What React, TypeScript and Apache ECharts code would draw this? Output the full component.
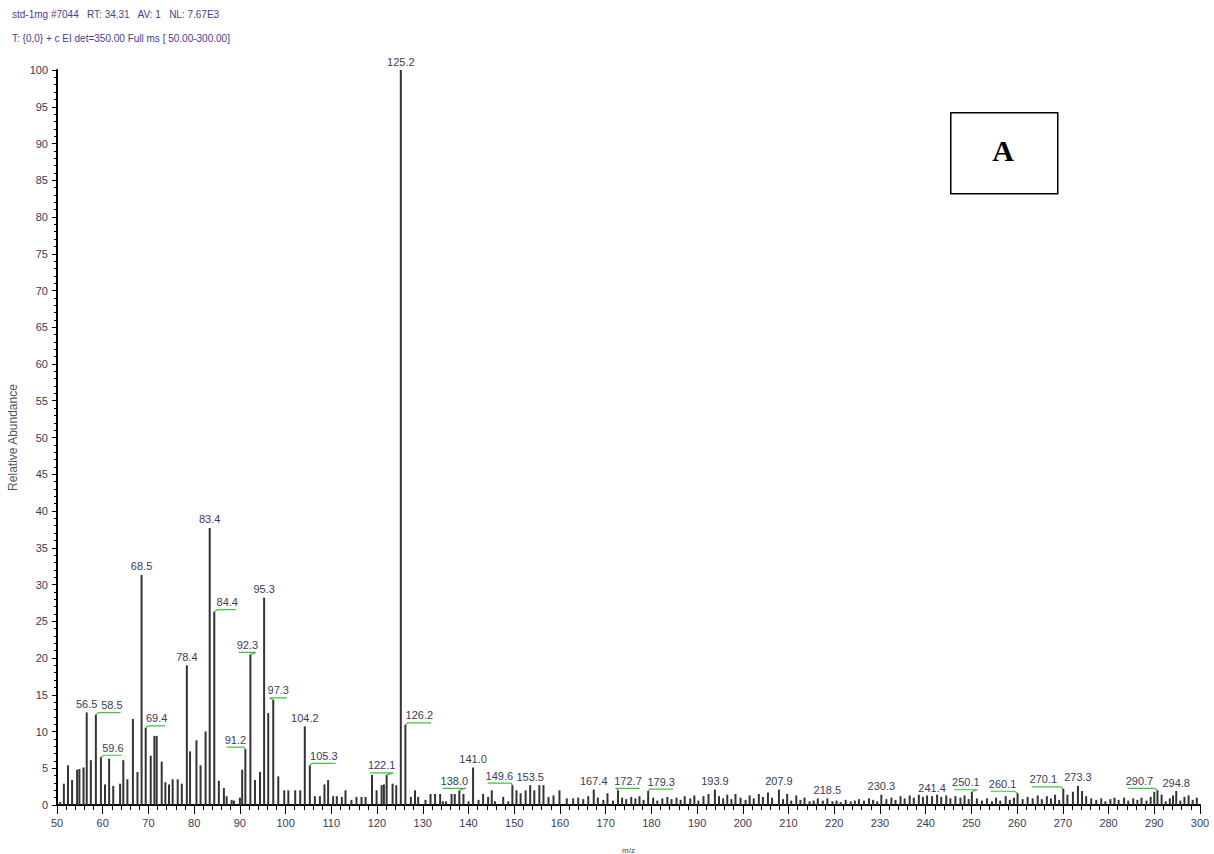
import React, { useEffect, useRef } from 'react';
import * as echarts from 'echarts';

// [m/z, relative abundance]
const lowMassPeaks: [number, number][] = [
  [50.7, 0.4], [51.5, 2.9], [52.4, 5.4], [53.3, 3.4], [54.4, 4.8], [54.9, 4.9], [55.8, 5.1],
  [56.5, 12.6], [57.4, 6.1], [58.5, 12.3], [59.6, 6.5], [60.5, 2.8], [61.4, 6.3], [62.3, 2.6],
  [63.8, 2.9], [64.5, 6.1], [65.4, 3.5], [66.6, 11.7], [67.6, 4.5], [68.5, 31.3], [69.4, 10.5],
  [70.5, 6.7], [71.3, 9.4], [71.8, 9.4], [72.9, 5.9], [73.7, 3.1], [74.5, 2.8], [75.3, 3.5],
  [76.4, 3.5], [77.3, 2.9], [78.4, 19.0], [79.1, 7.3], [80.5, 8.8], [81.4, 5.4], [82.5, 10.0],
  [83.4, 37.7], [84.4, 26.3], [85.4, 3.3], [86.5, 2.3], [87.1, 1.2], [88.2, 0.7], [88.7, 0.6],
  [90.0, 1.0], [90.5, 4.8], [91.2, 7.6], [92.3, 20.5], [93.3, 3.4], [94.4, 4.5], [95.3, 28.2],
  [96.2, 12.5], [97.3, 14.3], [98.4, 3.9], [99.7, 2.0], [100.6, 2.0], [102.1, 2.0], [103.2, 2.0],
  [104.2, 10.7], [105.3, 5.4], [106.4, 1.2], [107.5, 1.2], [108.5, 2.8], [109.3, 3.4], [110.4, 1.2],
  [111.2, 1.2], [112.3, 1.1], [113.1, 2.0], [114.4, 0.7], [115.5, 1.1], [116.6, 1.1], [117.5, 1.1],
  [118.9, 4.1], [119.9, 2.0], [121.0, 2.7], [121.5, 2.8], [122.1, 4.1], [123.4, 2.9], [124.2, 2.7],
  [125.2, 100], [126.2, 10.9], [127.4, 1.1], [128.3, 2.0], [129.0, 1.1],
];

const midMassPeaks: [number, number][] = [
  [130.6, 0.7], [131.7, 1.5], [132.7, 1.5], [133.8, 1.5], [134.4, 0.5], [135.1, 0.5], [136.3, 1.5],
  [137.0, 1.5], [138.0, 2.0], [138.9, 1.5], [140.0, 0.5], [141.0, 5.1], [142.2, 0.7], [143.2, 1.5],
  [144.3, 1.1], [145.1, 2.0], [145.8, 0.5], [147.6, 1.1], [148.7, 0.5], [149.6, 2.7], [150.5, 2.0],
  [151.4, 1.6], [152.5, 2.0], [153.5, 2.7], [154.4, 2.0], [155.5, 2.7], [156.4, 2.7], [157.5, 1.1],
  [158.6, 1.3], [159.9, 2.0], [161.5, 0.9], [162.9, 0.9],
];

const highMassPeaks: [number, number][] = [
  [164.0, 1.0], [165.1, 0.8], [166.2, 1.2], [167.4, 2.1], [168.3, 1.0], [169.5, 0.7], [170.4, 1.6],
  [171.6, 0.6], [172.7, 2.0], [173.6, 1.0], [174.5, 0.8], [175.6, 1.1], [176.5, 0.9], [177.4, 1.2],
  [178.3, 0.7], [179.3, 1.9], [180.4, 1.0], [181.3, 0.6], [182.4, 0.9], [183.5, 1.1], [184.4, 0.8],
  [185.5, 1.0], [186.4, 0.7], [187.3, 1.2], [188.5, 0.9], [189.4, 1.3], [190.3, 0.6], [191.4, 1.2],
  [192.5, 1.5], [193.9, 2.1], [194.8, 1.2], [195.7, 0.9], [196.6, 1.4], [197.5, 0.8], [198.4, 1.5],
  [199.5, 1.0], [200.6, 0.7], [201.5, 1.3], [202.4, 0.9], [203.5, 1.5], [204.4, 1.1], [205.5, 1.7],
  [206.4, 1.0], [207.9, 2.1], [208.8, 0.8], [209.7, 1.5], [210.6, 0.6], [211.7, 1.3], [212.6, 0.7],
  [213.5, 1.0], [214.6, 0.5], [215.5, 0.6], [216.4, 0.9], [217.5, 0.6], [218.5, 0.9], [219.6, 0.5],
  [220.5, 0.6], [221.4, 0.4], [222.5, 0.7], [223.6, 0.5], [224.5, 0.6], [225.4, 0.8], [226.5, 0.6],
  [227.6, 0.9], [228.5, 0.7], [229.4, 0.5], [230.3, 1.4], [231.4, 0.8], [232.5, 1.0], [233.4, 0.7],
  [234.5, 1.2], [235.4, 0.9], [236.5, 1.3], [237.4, 1.0], [238.5, 1.4], [239.4, 1.1], [240.3, 1.3],
  [241.4, 1.2], [242.5, 1.4], [243.4, 1.1], [244.5, 1.3], [245.4, 0.9], [246.5, 1.2], [247.6, 1.0],
  [248.5, 1.3], [249.4, 0.8], [250.1, 1.8], [251.2, 0.9], [252.3, 0.6], [253.4, 0.9], [254.5, 0.5],
  [255.4, 1.0], [256.3, 0.6], [257.5, 1.2], [258.4, 0.7], [259.3, 1.0], [260.1, 1.6], [261.2, 0.8],
  [262.3, 1.1], [263.4, 0.9], [264.5, 1.3], [265.4, 0.8], [266.5, 1.2], [267.4, 0.9], [268.3, 1.4],
  [269.2, 0.7], [270.1, 2.2], [271.0, 1.4], [272.2, 1.8], [273.3, 2.6], [274.2, 1.9], [275.1, 1.2],
  [276.2, 0.9], [277.3, 0.7], [278.4, 0.9], [279.3, 0.5], [280.4, 0.8], [281.3, 1.0], [282.2, 0.7],
  [283.4, 1.0], [284.3, 0.6], [285.4, 0.9], [286.3, 0.7], [287.2, 1.0], [288.3, 0.6], [289.2, 1.1],
  [290.0, 1.8], [290.7, 2.0], [291.6, 1.4], [292.5, 0.5], [293.4, 0.9], [294.1, 1.3], [294.8, 1.9],
  [295.7, 0.6], [296.6, 1.1], [297.5, 1.3], [298.4, 0.7], [299.3, 1.0],
];

const labelledMz = [
  56.5, 58.5, 59.6, 68.5, 69.4, 78.4, 83.4, 84.4, 91.2, 92.3, 95.3, 97.3, 104.2, 105.3, 122.1,
  125.2, 126.2, 138.0, 141.0, 149.6, 153.5, 167.4, 172.7, 179.3, 193.9, 207.9, 218.5, 230.3,
  241.4, 250.1, 260.1, 270.1, 273.3, 290.7, 294.8,
];

const headerLines = [
  'std-1mg #7044   RT: 34.31   AV: 1   NL: 7.67E3',
  'T: {0,0} + c EI det=350.00 Full ms [ 50.00-300.00]',
];

const panelLetter = 'A';

// horizontal pixel shift of labels that sit beside their peak (green leader line)
const labelShift: Record<string, number> = {
  '58.5': 16, '59.6': 12, '69.4': 11, '84.4': 13, '91.2': -10, '92.3': -3, '97.3': 5,
  '105.3': 14, '122.1': -5, '126.2': 14, '138.0': -5, '149.6': -13, '172.7': 10, '179.3': 13,
  '250.1': -6, '260.1': -15, '270.1': -20, '290.7': -18,
};

const FONT = '"Liberation Sans", Arial, sans-serif';
const textWidth = (s: string) => (s.length - 1) * 6.1 + 3;

const App: React.FC = () => {
  const chartRef = useRef<HTMLDivElement>(null);

  useEffect(() => {
    if (!chartRef.current) return;
    const chart = echarts.init(chartRef.current, undefined, { renderer: 'svg' });

    const allPeaks = [...lowMassPeaks, ...midMassPeaks, ...highMassPeaks];
    const labelData = labelledMz.map((mz) => {
      const p = allPeaks.find((q) => Math.abs(q[0] - mz) < 1e-6);
      return [mz, p ? p[1] : 0];
    });

    const option = {
      animation: false,
      backgroundColor: '#fff',
      grid: { left: 57, right: 14, top: 70, bottom: 49, outerBoundsMode: 'none', containLabel: false },
      xAxis: {
        type: 'value',
        min: 50,
        max: 300,
        interval: 10,
        name: 'm/z',
        nameLocation: 'middle',
        nameGap: 41,
        nameTextStyle: { fontSize: 8, color: '#444', fontFamily: FONT },
        axisLine: { show: true, lineStyle: { color: '#000', width: 2 } },
        axisTick: { show: true, length: 9, lineStyle: { color: '#000', width: 1 } },
        minorTick: { show: true, splitNumber: 5, length: 5, lineStyle: { color: '#000', width: 1 } },
        splitLine: { show: false },
        axisLabel: { fontSize: 11, color: '#3a3a55', margin: 12, fontFamily: FONT },
      },
      yAxis: {
        type: 'value',
        min: 0,
        max: 100,
        interval: 5,
        name: 'Relative Abundance',
        nameLocation: 'middle',
        nameGap: 36,
        nameTextStyle: { fontSize: 12, color: '#555', fontFamily: FONT },
        axisLine: { show: true, lineStyle: { color: '#000', width: 2 } },
        axisTick: { show: true, length: 5, lineStyle: { color: '#000', width: 1 } },
        minorTick: { show: true, splitNumber: 5, length: 3, lineStyle: { color: '#000', width: 1 } },
        splitLine: { show: false },
        axisLabel: { fontSize: 11, color: '#3a3a55', margin: 9, fontFamily: FONT },
      },
      graphic: [
        {
          type: 'text',
          left: 12,
          top: 9,
          style: { text: headerLines[0], fontSize: 10, fill: '#4a3c9c', fontFamily: FONT },
        },
        {
          type: 'text',
          left: 12,
          top: 33,
          style: { text: headerLines[1], fontSize: 10, fill: '#4a3c9c', fontFamily: FONT },
        },
        {
          type: 'rect',
          left: 950,
          top: 112,
          shape: { width: 107, height: 81 },
          style: { fill: '#fff', stroke: '#000', lineWidth: 1.5 },
        },
        {
          type: 'text',
          x: 1003,
          y: 150,
          style: {
            text: panelLetter,
            fontSize: 30,
            fontWeight: 'bold',
            fontFamily: '"Liberation Serif", "Times New Roman", serif',
            fill: '#000',
            align: 'center',
            verticalAlign: 'middle',
          },
        },
      ],
      series: [
        {
          type: 'custom',
          name: 'sticks',
          data: allPeaks,
          encode: { x: 0, y: 1 },
          clip: false,
          renderItem: (_params: any, api: any) => {
            const mz = api.value(0);
            const ab = api.value(1);
            const base = api.coord([mz, 0]);
            const top = api.coord([mz, ab]);
            return {
              type: 'line',
              shape: { x1: base[0], y1: base[1], x2: top[0], y2: top[1] },
              style: { stroke: '#333', lineWidth: 2 },
            };
          },
        },
        {
          type: 'custom',
          name: 'labels',
          data: labelData,
          encode: { x: 0, y: 1 },
          clip: false,
          z: 5,
          renderItem: (_params: any, api: any) => {
            const mz = api.value(0);
            const ab = api.value(1);
            const [px, py] = api.coord([mz, ab]);
            const text = mz.toFixed(1);
            const dx = labelShift[text] || 0;
            const w = textWidth(text);
            const cx = px + dx;
            const children: any[] = [
              {
                type: 'text',
                style: {
                  text,
                  x: cx,
                  y: dx !== 0 ? py - 4 : py - 3,
                  align: 'center',
                  verticalAlign: 'bottom',
                  fill: '#3b3b5c',
                  fontSize: 11,
                  fontFamily: FONT,
                },
              },
            ];
            if (dx !== 0) {
              const ly = py - 2;
              const pts =
                dx > 0
                  ? [[px, py], [Math.min(px + 3, cx - w / 2 + 2), ly], [cx + w / 2 - 2, ly]]
                  : [[cx - w / 2 + 2, ly], [Math.max(px - 3, cx + w / 2 - 2), ly], [px, py]];
              children.push({
                type: 'polyline',
                shape: { points: pts },
                style: { stroke: '#44c044', fill: 'none', lineWidth: 1.2 },
              });
            }
            return { type: 'group', children };
          },
        },
      ],
    };

    chart.setOption(option);
    return () => {
      chart.dispose();
    };
  }, []);

  return (
    <div
      ref={chartRef}
      style={{ position: 'absolute', left: 0, top: 0, width: '1214px', height: '854px' }}
    ></div>
  );
};

export default App;
